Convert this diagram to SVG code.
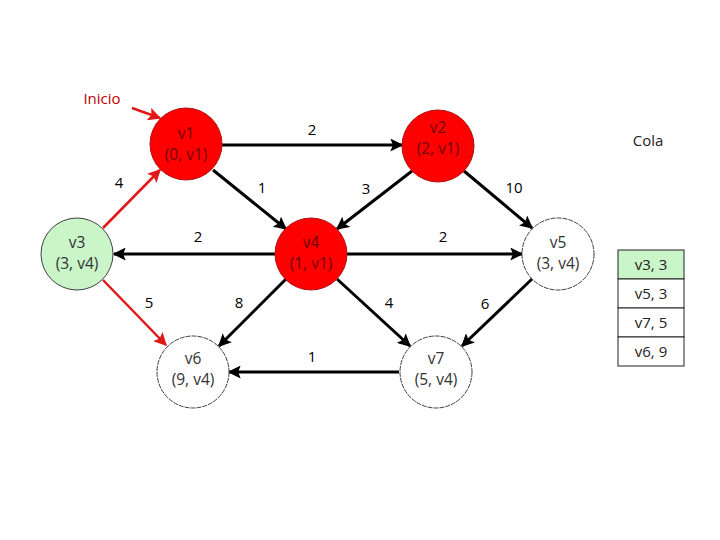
<svg xmlns="http://www.w3.org/2000/svg" width="720" height="540" viewBox="0 0 720 540">
<style>
text{font-family:"Open Sans","Liberation Sans",sans-serif;font-size:15px;text-anchor:middle;}
.e{stroke:#000;stroke-width:3;fill:none;marker-end:url(#ab);}
.r{stroke:#e01818;stroke-width:2.5;fill:none;marker-end:url(#ar);}
.red{fill:#ff0000;stroke:#b01010;stroke-width:1;}
.grn{fill:#c9f5c9;stroke:#404040;stroke-width:1;}
.wht{fill:#fff;stroke:#404040;stroke-width:1;stroke-dasharray:5 1;}
.nt{fill:#333;font-size:15.5px;}
.nr{fill:#700000;font-size:15.5px;}
.lbl{fill:#000;font-size:15px;}
.cell{fill:#fff;stroke:#222;stroke-width:1;}
</style>
<defs>
<marker id="ab" viewBox="0 0 10 10" refX="9" refY="5" markerWidth="13" markerHeight="13" markerUnits="userSpaceOnUse" orient="auto"><path d="M0,0 L10,5 L0,10 L2,5 Z" fill="#000"/></marker>
<marker id="ar" viewBox="0 0 10 10" refX="9" refY="5" markerWidth="13" markerHeight="13" markerUnits="userSpaceOnUse" orient="auto"><path d="M0,0 L10,5 L0,10 L2,5 Z" fill="#e01818"/></marker>
</defs>
<rect width="720" height="540" fill="#fff"/>
<g id="connectors">
<line class="e" x1="222" y1="145" x2="402" y2="145"/>
<line class="e" x1="213" y1="170" x2="286" y2="229"/>
<line class="e" x1="412" y1="171" x2="337" y2="229"/>
<line class="e" x1="464" y1="171" x2="532" y2="228"/>
<line class="e" x1="275" y1="254" x2="114" y2="254"/>
<line class="e" x1="347" y1="254" x2="522" y2="254"/>
<line class="e" x1="286" y1="279" x2="219" y2="346"/>
<line class="e" x1="337" y1="279" x2="410" y2="346"/>
<line class="e" x1="532" y1="279" x2="462" y2="346"/>
<line class="e" x1="399" y1="372" x2="229" y2="372"/>
<line class="r" x1="103" y1="228" x2="160" y2="170"/>
<line class="r" x1="103" y1="280" x2="166" y2="345"/>
<line class="r" x1="132" y1="108" x2="160" y2="118"/>
<text class="lbl" x="312" y="135">2</text>
<text class="lbl" x="262" y="193">1</text>
<text class="lbl" x="366" y="194">3</text>
<text class="lbl" x="514" y="193">10</text>
<text class="lbl" x="119" y="188">4</text>
<text class="lbl" x="198" y="242">2</text>
<text class="lbl" x="443" y="242">2</text>
<text class="lbl" x="149" y="308">5</text>
<text class="lbl" x="239" y="308">8</text>
<text class="lbl" x="389" y="308">4</text>
<text class="lbl" x="485" y="309">6</text>
<text class="lbl" x="312" y="362">1</text>
</g>
<g id="inicio"><text x="102" y="104" fill="#c00000" font-size="15">Inicio</text></g>
<g id="v1"><circle class="red" cx="186" cy="144" r="36"/><text class="nr" x="186" y="139">v1</text><text class="nr" x="186" y="160">(0, v1)</text></g>
<g id="v2"><circle class="red" cx="438" cy="146" r="36"/><text class="nr" x="438" y="133">v2</text><text class="nr" x="438" y="154">(2, v1)</text></g>
<g id="v3"><circle class="grn" cx="77" cy="254" r="36"/><text class="nt" x="77" y="248">v3</text><text class="nt" x="77" y="269">(3, v4)</text></g>
<g id="v4"><circle class="red" cx="311" cy="254" r="36"/><text class="nr" x="311" y="248">v4</text><text class="nr" x="311" y="269">(1, v1)</text></g>
<g id="v5"><circle class="wht" cx="558" cy="254" r="36"/><text class="nt" x="558" y="248">v5</text><text class="nt" x="558" y="269">(3, v4)</text></g>
<g id="v6"><circle class="wht" cx="193" cy="372" r="36"/><text class="nt" x="193" y="364">v6</text><text class="nt" x="193" y="385">(9, v4)</text></g>
<g id="v7"><circle class="wht" cx="436" cy="372" r="36"/><text class="nt" x="436" y="364">v7</text><text class="nt" x="436" y="385">(5, v4)</text></g>
<g id="cola">
<text x="648" y="146" fill="#222">Cola</text>
<rect x="618" y="250" width="66" height="29" fill="#c9f5c9" stroke="#222"/>
<rect class="cell" x="618" y="279" width="66" height="29"/>
<rect class="cell" x="618" y="308" width="66" height="29"/>
<rect class="cell" x="618" y="337" width="66" height="29"/>
<text x="651" y="270" fill="#222">v3, 3</text>
<text x="651" y="299" fill="#222">v5, 3</text>
<text x="651" y="328" fill="#222">v7, 5</text>
<text x="651" y="357" fill="#222">v6, 9</text>
</g>
</svg>
